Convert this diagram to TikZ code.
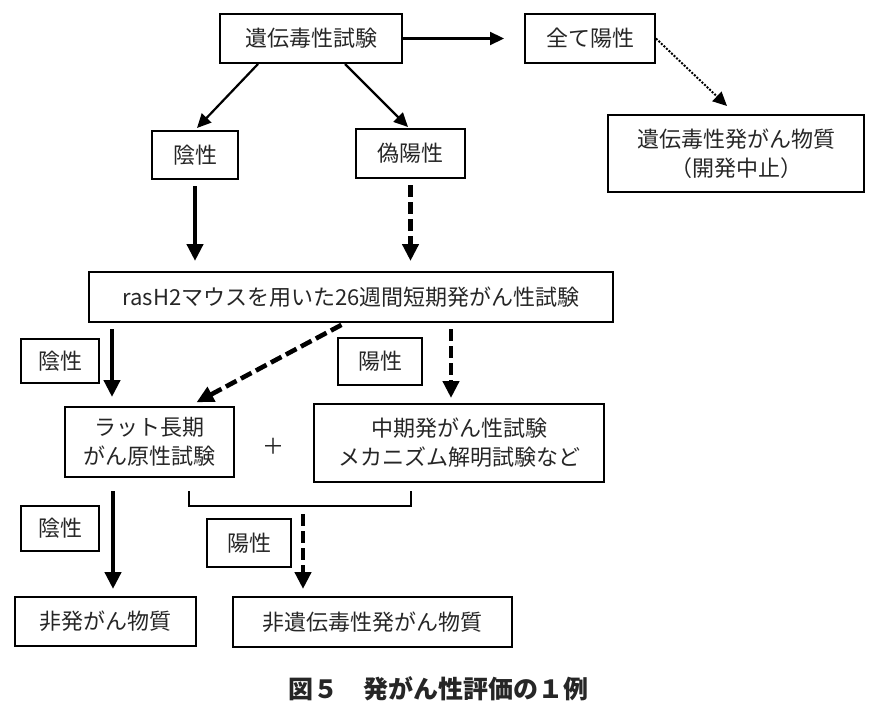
\documentclass[tikz,border=0pt]{standalone}
\usepackage{fontspec}
\setmainfont{Noto Sans CJK JP}
\usetikzlibrary{arrows.meta,calc}

\begin{document}
\begin{tikzpicture}[x=1pt,y=-1pt,
		box/.style={draw, line width=2pt, inner sep=0pt, align=center, text=black!85, font=\fontsize{22}{29}\selectfont},
		thinarr/.style={line width=2.2pt, -{Triangle[width=13pt,length=14pt]}},
		fatarr/.style={line width=4.6pt, -{Triangle[width=16pt,length=17pt]}},
		fatdash/.style={fatarr, dash pattern=on 12pt off 5pt},
		dotarr/.style={line width=2pt, dash pattern=on 2pt off 1.5pt, -{Triangle[width=13pt,length=14pt]}}]
		\useasboundingbox (0,0) rectangle (877,709);

		\node (test)[box, minimum width=182pt, minimum height=49pt] at (311,38.5) {遺伝毒性試験};
		\node (allpos)[box, minimum width=130pt, minimum height=49pt] at (590,38.5) {全て陽性};
		\node (gcarc)[box, minimum width=256pt, minimum height=77pt] at (736,153.5) {遺伝毒性発がん物質\\（開発中止）};
		\node (neg1)[box, minimum width=86pt, minimum height=48pt] at (195,155) {陰性};
		\node (fpos)[box, minimum width=109pt, minimum height=49pt] at (410.5,153.5) {偽陽性};
		\node (ras)[box, minimum width=524pt, minimum height=50pt] at (351,297) {rasH2マウスを用いた26週間短期発がん性試験};
		\node (neg2)[box, minimum width=78pt, minimum height=44pt] at (60,361) {陰性};
		\node (pos2)[box, minimum width=84pt, minimum height=47pt] at (380,361.5) {陽性};
		\node (rat)[box, minimum width=169pt, minimum height=70pt] at (149.5,442) {ラット長期\\がん原性試験};
		\node (plus)[text=black!85, font=\fontsize{22}{26}\selectfont] at (273,446) {＋};
		\node (mid)[box, minimum width=290pt, minimum height=78pt] at (459,443) {中期発がん性試験\\メカニズム解明試験など};
		\node (neg3)[box, minimum width=78pt, minimum height=45pt] at (60,528.5) {陰性};
		\node (pos3)[box, minimum width=84pt, minimum height=48pt] at (249,543) {陽性};
		\node (noncarc)[box, minimum width=181pt, minimum height=49pt] at (105.5,621.5) {非発がん物質};
		\node (nongtx)[box, minimum width=279pt, minimum height=50pt] at (372.5,622) {非遺伝毒性発がん物質};
		\node (cap)[text=black!85, font=\fontsize{25}{30}\selectfont\bfseries] at (438,689) {図５　発がん性評価の１例};

		\coordinate (brl) at ($(rat.south)+(39.5,13)$);
		\coordinate (brr) at ($(mid.south)+(-48,8)$);
		\coordinate (brm) at ($(brl)+(114,15)$);

		\draw [thinarr](test.east)--([xshift=-20pt]allpos.west);
		\draw [dotarr](allpos.east)--([xshift=-9pt,yshift=8pt]gcarc.north);
		\draw [thinarr]([xshift=-53pt]test.south)--([xshift=2pt,yshift=2pt]neg1.north);
		\draw [thinarr]([xshift=34pt]test.south)--([xshift=-2.5pt,yshift=1pt]fpos.north);

		\draw [fatarr, shorten <=6pt, shorten >=10pt](neg1.south)--(neg1.south |- ras.north);
		\draw [fatdash, shorten <=6pt, shorten >=10pt](fpos.south)--(fpos.south |- ras.north);

		\draw [fatarr, shorten <=6pt, shorten >=9pt]($(ras.south west)+(24,0)$)--($(ras.south west |- rat.north)+(24,0)$);
		\draw [fatdash, shorten <=4pt, shorten >=8pt]($(ras.south)+(-6,0)$)--($(rat.north)+(40,0)$);
		\draw [fatdash, shorten <=6pt, shorten >=5pt]($(ras.south -| mid.north)+(-8,0)$)--($(mid.north)+(-8,0)$);

		\draw [line width=2pt](brl)--++(0,15)-|(brr);
		\draw [fatarr, shorten <=13pt, shorten >=7pt]($(rat.south)+(-36.5,0)$)--($(noncarc.north)+(7.5,0)$);
		\draw [fatdash, shorten <=8pt, shorten >=7pt](brm)--(brm |- nongtx.north);
	\end{tikzpicture}
\end{document}
